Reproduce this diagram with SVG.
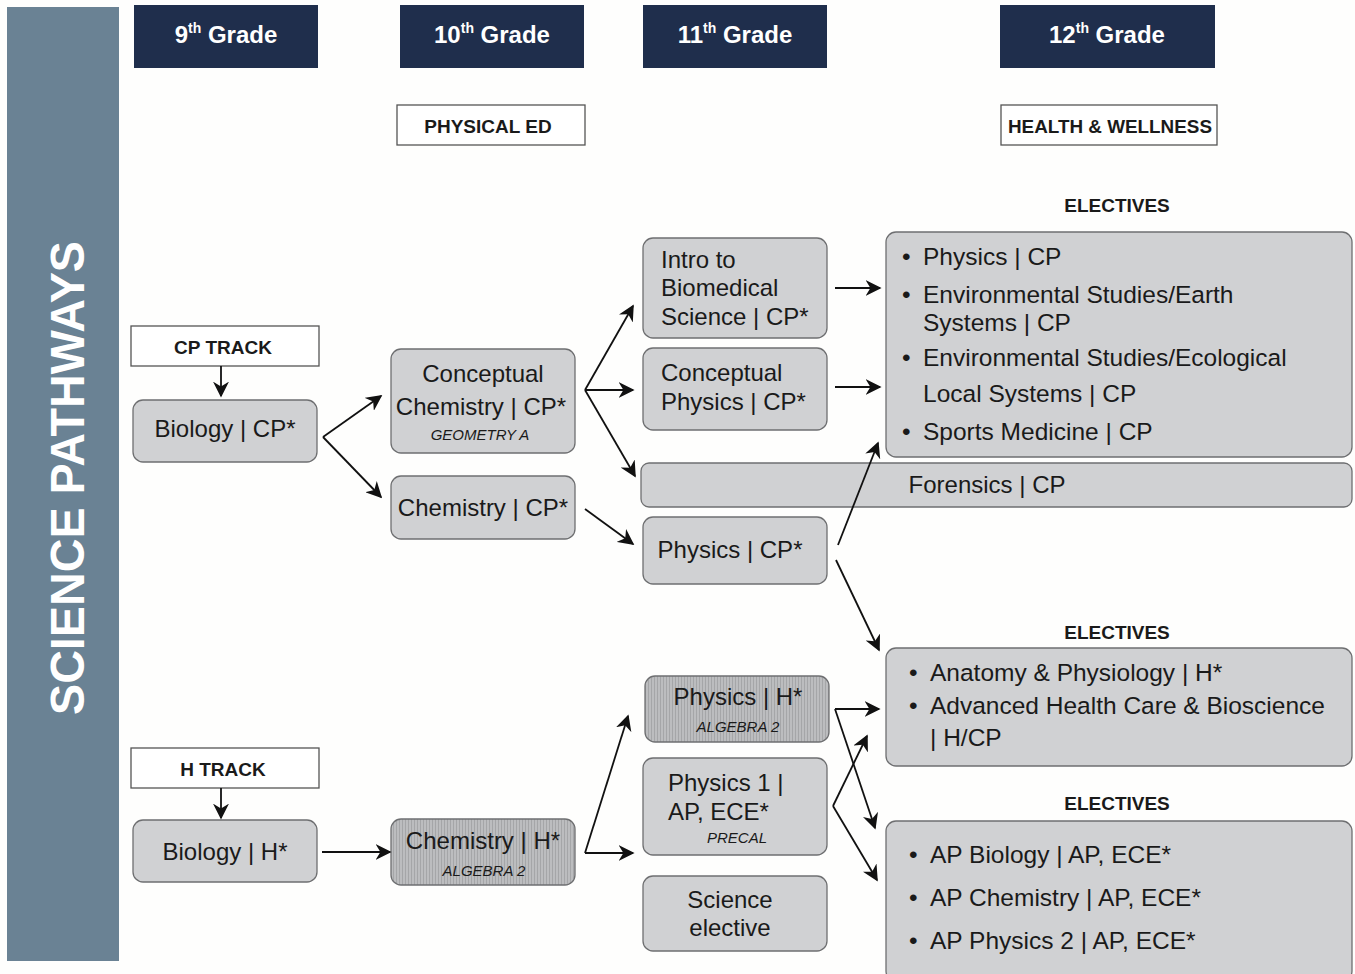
<svg xmlns="http://www.w3.org/2000/svg" width="1355" height="974" viewBox="0 0 1355 974">
<style>
text{font-family:"Liberation Sans",Arial,sans-serif;fill:#1a1a1a}
.hdr{fill:#1f2e4c}
.ht{fill:#ffffff;font-weight:bold;font-size:24px;text-anchor:middle}
.lab{fill:#ffffff;stroke:#555;stroke-width:1.3}
.lt{font-weight:bold;font-size:19px;text-anchor:middle}
.node{fill:#d0d1d3;stroke:#6e6f71;stroke-width:1.3}
.str{fill:url(#stripes);stroke:#6e6f71;stroke-width:1.3}
.nt{font-size:24px}
.c{text-anchor:middle}
.it{font-style:italic;font-size:15px}
.el{font-size:24.5px}
.con line{stroke:#111;stroke-width:1.8;fill:none}
</style>
<defs>
<marker id="ah2" viewBox="0 0 10 10" refX="9" refY="5" markerWidth="16" markerHeight="16" markerUnits="userSpaceOnUse" orient="auto">
<path d="M0,0 L10,5 L0,10 L3,5 z" fill="#111"/>
</marker>
<pattern id="stripes" width="3" height="10" patternUnits="userSpaceOnUse">
<rect width="3" height="10" fill="#bcbdbf"/>
<rect width="1" height="10" fill="#a5a6a8"/>
</pattern>
</defs>
<rect width="1355" height="974" fill="#fefefd"/>

<g id="sidebar">
<rect x="7" y="7" width="112" height="954" fill="#6a8294"/>
<text transform="translate(84,478) rotate(-90)" text-anchor="middle" font-size="48" font-weight="bold" style="fill:#ffffff" textLength="474" lengthAdjust="spacingAndGlyphs">SCIENCE PATHWAYS</text>
</g>

<g id="grade9"><rect class="hdr" x="134" y="5" width="184" height="63"/><text class="ht" x="226" y="43">9<tspan font-size="14" dy="-10">th</tspan><tspan dy="10"> Grade</tspan></text></g>
<g id="grade10"><rect class="hdr" x="400" y="5" width="184" height="63"/><text class="ht" x="492" y="43">10<tspan font-size="14" dy="-10">th</tspan><tspan dy="10"> Grade</tspan></text></g>
<g id="grade11"><rect class="hdr" x="643" y="5" width="184" height="63"/><text class="ht" x="735" y="43">11<tspan font-size="14" dy="-10">th</tspan><tspan dy="10"> Grade</tspan></text></g>
<g id="grade12"><rect class="hdr" x="1000" y="5" width="215" height="63"/><text class="ht" x="1107" y="43">12<tspan font-size="14" dy="-10">th</tspan><tspan dy="10"> Grade</tspan></text></g>

<g id="physed"><rect class="lab" x="397" y="105" width="188" height="40"/><text class="lt" x="488" y="133">PHYSICAL ED</text></g>
<g id="health"><rect class="lab" x="1001" y="105" width="216" height="40"/><text class="lt" x="1110" y="133" textLength="204" lengthAdjust="spacingAndGlyphs">HEALTH &amp; WELLNESS</text></g>

<g id="cptrack"><rect class="lab" x="131" y="326" width="188" height="40"/><text class="lt" x="223" y="354">CP TRACK</text></g>
<g id="htrack"><rect class="lab" x="131" y="748" width="188" height="40"/><text class="lt" x="223" y="776">H TRACK</text></g>

<g id="bio-cp"><rect class="node" x="133" y="400" width="184" height="62" rx="10"/><text class="nt c" x="225" y="437">Biology | CP*</text></g>
<g id="bio-h"><rect class="node" x="133" y="820" width="184" height="62" rx="10"/><text class="nt c" x="225" y="860">Biology | H*</text></g>

<g id="conc-chem"><rect class="node" x="391" y="349" width="184" height="104" rx="10"/>
<text class="nt c" x="483" y="382">Conceptual</text>
<text class="nt c" x="481" y="415">Chemistry | CP*</text>
<text class="it c" x="480" y="440">GEOMETRY A</text></g>
<g id="chem-cp"><rect class="node" x="391" y="476" width="184" height="63" rx="10"/><text class="nt c" x="483" y="516">Chemistry | CP*</text></g>
<g id="chem-h"><rect class="str" x="391" y="819" width="184" height="66" rx="10"/>
<text class="nt c" x="483" y="849">Chemistry | H*</text>
<text class="it c" x="484" y="876">ALGEBRA 2</text></g>

<g id="intro-bio"><rect class="node" x="643" y="238" width="184" height="100" rx="10"/>
<text class="nt" x="661" y="268">Intro to</text>
<text class="nt" x="661" y="296">Biomedical</text>
<text class="nt" x="661" y="325">Science | CP*</text></g>
<g id="conc-phys"><rect class="node" x="643" y="348" width="184" height="82" rx="10"/>
<text class="nt" x="661" y="381">Conceptual</text>
<text class="nt" x="661" y="410">Physics | CP*</text></g>
<g id="forensics"><rect class="node" x="641" y="463" width="711" height="44" rx="8"/><text class="nt c" x="987" y="493">Forensics | CP</text></g>
<g id="phys-cp"><rect class="node" x="643" y="517" width="184" height="67" rx="10"/><text class="nt c" x="730" y="558">Physics | CP*</text></g>

<g id="phys-h"><rect class="str" x="645" y="676" width="184" height="66" rx="10"/>
<text class="nt c" x="738" y="705">Physics | H*</text>
<text class="it c" x="738" y="732">ALGEBRA 2</text></g>
<g id="phys1"><rect class="node" x="643" y="758" width="184" height="97" rx="10"/>
<text class="nt" x="668" y="791">Physics 1 |</text>
<text class="nt" x="668" y="820">AP, ECE*</text>
<text class="it" x="707" y="843">PRECAL</text></g>
<g id="sci-elec"><rect class="node" x="643" y="876" width="184" height="75" rx="10"/>
<text class="nt c" x="730" y="908">Science</text>
<text class="nt c" x="730" y="936">elective</text></g>

<g id="electives1">
<text class="lt" x="1117" y="212">ELECTIVES</text>
<rect class="node" x="886" y="232" width="466" height="225" rx="10"/>
<g class="el">
<text x="902" y="265">•</text><text x="923" y="265">Physics | CP</text>
<text x="902" y="303">•</text><text x="923" y="303">Environmental Studies/Earth</text>
<text x="923" y="331">Systems | CP</text>
<text x="902" y="366">•</text><text x="923" y="366">Environmental Studies/Ecological</text>
<text x="923" y="402">Local Systems | CP</text>
<text x="902" y="440">•</text><text x="923" y="440">Sports Medicine | CP</text>
</g></g>

<g id="electives2">
<text class="lt" x="1117" y="639">ELECTIVES</text>
<rect class="node" x="886" y="648" width="466" height="118" rx="10"/>
<g class="el">
<text x="909" y="681">•</text><text x="930" y="681">Anatomy &amp; Physiology | H*</text>
<text x="909" y="714">•</text><text x="930" y="714">Advanced Health Care &amp; Bioscience</text>
<text x="930" y="746">| H/CP</text>
</g></g>

<g id="electives3">
<text class="lt" x="1117" y="810">ELECTIVES</text>
<rect class="node" x="886" y="821" width="466" height="160" rx="10"/>
<g class="el">
<text x="909" y="863">•</text><text x="930" y="863">AP Biology | AP, ECE*</text>
<text x="909" y="906">•</text><text x="930" y="906">AP Chemistry | AP, ECE*</text>
<text x="909" y="949">•</text><text x="930" y="949">AP Physics 2 | AP, ECE*</text>
</g></g>

<g id="connectors" class="con">
<line x1="221" y1="366" x2="221" y2="396" marker-end="url(#ah2)"/>
<line x1="221" y1="788" x2="221" y2="818" marker-end="url(#ah2)"/>
<line x1="323" y1="437" x2="381" y2="396" marker-end="url(#ah2)"/>
<line x1="323" y1="437" x2="381" y2="497" marker-end="url(#ah2)"/>
<line x1="585" y1="390" x2="633" y2="306" marker-end="url(#ah2)"/>
<line x1="585" y1="390" x2="633" y2="390" marker-end="url(#ah2)"/>
<line x1="585" y1="390" x2="635" y2="476" marker-end="url(#ah2)"/>
<line x1="585" y1="509" x2="633" y2="544" marker-end="url(#ah2)"/>
<line x1="835" y1="288" x2="880" y2="288" marker-end="url(#ah2)"/>
<line x1="835" y1="387" x2="880" y2="387" marker-end="url(#ah2)"/>
<line x1="838" y1="545" x2="878" y2="443" marker-end="url(#ah2)"/>
<line x1="836" y1="560" x2="879" y2="650" marker-end="url(#ah2)"/>
<line x1="322" y1="852" x2="390" y2="852" marker-end="url(#ah2)"/>
<line x1="585" y1="853" x2="628" y2="716" marker-end="url(#ah2)"/>
<line x1="585" y1="853" x2="633" y2="853" marker-end="url(#ah2)"/>
<line x1="835" y1="709" x2="879" y2="709" marker-end="url(#ah2)"/>
<line x1="835" y1="709" x2="875" y2="828" marker-end="url(#ah2)"/>
<line x1="833" y1="806" x2="867" y2="736" marker-end="url(#ah2)"/>
<line x1="833" y1="806" x2="877" y2="880" marker-end="url(#ah2)"/>
</g>
</svg>
